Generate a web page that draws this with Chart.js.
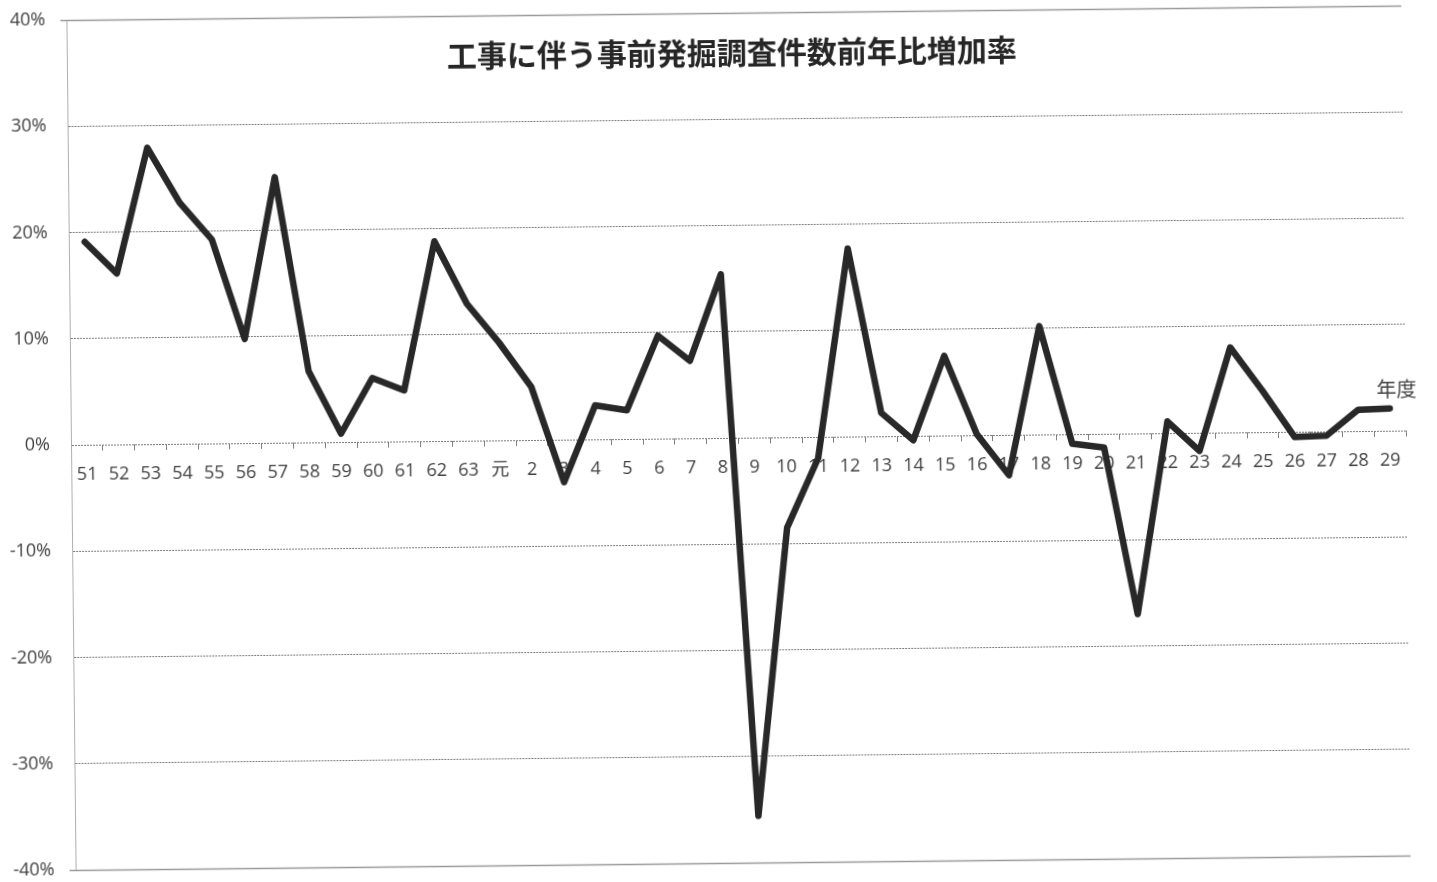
<!DOCTYPE html>
<html lang="ja">
<head>
<meta charset="utf-8">
<title>工事に伴う事前発掘調査件数前年比増加率</title>
<script src="https://cdn.jsdelivr.net/npm/chart.js@4.4.1/dist/chart.umd.min.js"></script>
<style>
  html, body { margin: 0; padding: 0; background: #fff; overflow: hidden; }
  #frame {
    position: relative; width: 1437px; height: 882px;
    transform: rotate(-0.62deg); transform-origin: 50% 50%;
  }
  #frame canvas { position: absolute; left: 0; top: 0; }
  .label { position: absolute; white-space: nowrap; text-align: center; }
  #title {
    left: 436px; width: 600px; top: 29px; line-height: 38px;
    font: bold 30px "Noto Sans CJK JP", sans-serif; color: #262626;
  }
  #unit {
    left: 1367px; width: 60px; top: 381px; line-height: 26px;
    font: 20px "Noto Sans CJK JP", sans-serif; color: #404040;
  }
</style>
</head>
<body>
<div id="frame">
  <canvas id="chart" width="1437" height="882"></canvas>
  <div id="title" class="label">工事に伴う事前発掘調査件数前年比増加率</div>
  <div id="unit" class="label">年度</div>
</div>
<script>
// 年度（昭和51〜63、平成元〜29）
const fiscalYears = [
  '51', '52', '53', '54', '55', '56', '57', '58', '59', '60', '61', '62', '63',
  '元', '2', '3', '4', '5', '6', '7', '8', '9', '10', '11', '12', '13', '14',
  '15', '16', '17', '18', '19', '20', '21', '22', '23', '24', '25', '26', '27',
  '28', '29'
];

// 前年比増加率（%）
const growthRate = [
  19.1, 16.1, 27.9, 22.7, 19.2, 9.8, 25.0, 6.7, 0.8, 6.0, 4.8, 18.8, 12.9,
  9.2, 5.0, -4.0, 3.2, 2.7, 9.7, 7.3, 15.4, -35.6, -8.5, -2.0, 17.7, 2.2, -0.4,
  7.5, 0.1, -3.8, 10.2, -0.9, -1.3, -17.0, 1.1, -1.7, 8.0, 3.9, -0.5, -0.4,
  2.0, 2.1
];

// 縦軸の目盛
const yTicks = { min: -40, max: 40, step: 10 };

const tickFont = { family: "'Open Sans', 'Noto Sans CJK JP', sans-serif", size: 18 };
const textGray = '#404040';

// 上端・下端の枠線（実線）
const frameLines = {
  id: 'frameLines',
  beforeDatasetsDraw(chart) {
    const { ctx, chartArea: a } = chart;
    ctx.save();
    ctx.strokeStyle = '#9a9a9a';
    ctx.lineWidth = 1.5;
    ctx.beginPath();
    ctx.moveTo(a.left - 6, a.top + 0.5);
    ctx.lineTo(a.right, a.top + 0.5);
    ctx.moveTo(a.left - 6, a.bottom + 0.5);
    ctx.lineTo(a.right, a.bottom + 0.5);
    ctx.stroke();
    ctx.restore();
  }
};

new Chart(document.getElementById('chart'), {
  type: 'line',
  data: {
    labels: fiscalYears,
    datasets: [{
      data: growthRate,
      borderColor: '#282828',
      borderWidth: 6.5,
      borderJoinStyle: 'round',
      borderCapStyle: 'round',
      pointRadius: 0,
      pointHoverRadius: 0,
      tension: 0,
      fill: false
    }]
  },
  options: {
    responsive: false,
    animation: false,
    events: [],
    layout: { padding: { top: 13, bottom: 19, left: 0, right: 31 } },
    plugins: {
      legend: { display: false },
      tooltip: { enabled: false },
      title: { display: false }
    },
    scales: {
      x: {
        type: 'category',
        position: { y: 0 },
        offset: true,
        border: { display: false },
        grid: {
          display: true,
          offset: true,
          drawOnChartArea: false,
          drawTicks: true,
          tickLength: 6,
          tickColor: '#808080',
          tickWidth: 1
        },
        ticks: {
          autoSkip: false,
          maxRotation: 0,
          minRotation: 0,
          padding: 13,
          color: textGray,
          font: tickFont
        }
      },
      y: {
        min: yTicks.min,
        max: yTicks.max,
        // fixed axis width; the plot area is set by the layout padding alone
        afterFit(scale) {
          scale.width = 71;
          scale.paddingTop = 0;
          scale.paddingBottom = 0;
        },
        border: {
          display: true,
          color: '#b0b0b0',
          width: 1,
          dash: (ctx) => (ctx.tick && Math.abs(ctx.tick.value) === 40 ? [] : [2, 1])
        },
        grid: {
          drawTicks: false,
          color: '#7c7c7c',
          lineWidth: 1
        },
        ticks: {
          stepSize: yTicks.step,
          padding: 21,
          color: textGray,
          font: tickFont,
          callback: (v) => v + '%'
        }
      }
    }
  },
  plugins: [frameLines]
});
</script>
</body>
</html>
